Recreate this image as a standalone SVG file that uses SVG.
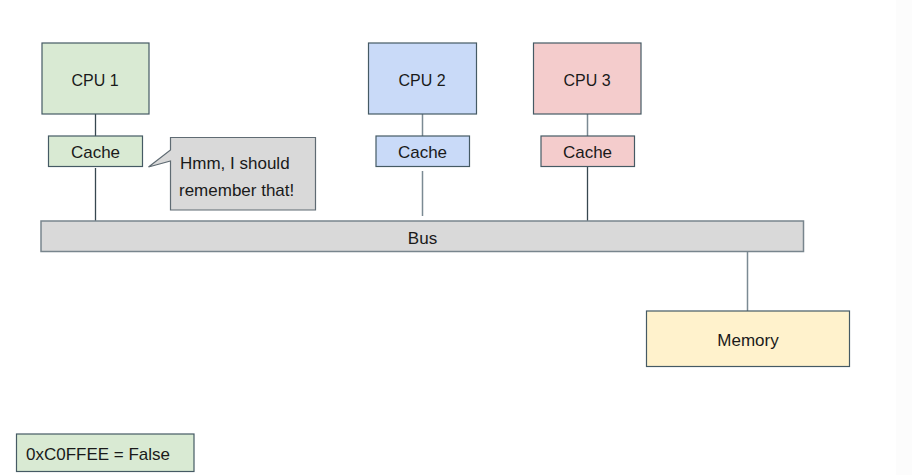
<svg xmlns="http://www.w3.org/2000/svg" width="912" height="475" viewBox="0 0 912 475">
<style>
.box{stroke:#455a64;stroke-width:1.2}
.t{font-family:"Liberation Sans",Arial,sans-serif;font-size:17px;fill:#1a1a1a;text-anchor:middle}
.t16{font-size:16px}
.ts{text-anchor:start}
.dark{stroke:#37474f;stroke-width:1.3;fill:none}
.light{stroke:#7b8a93;stroke-width:1.5;fill:none}
</style>
<rect width="912" height="475" fill="#ffffff"/>
<rect x="896" y="0" width="16" height="475" fill="#fcfcfc"/>
<g id="connectors">
<line class="dark" x1="95.5" y1="114" x2="95.5" y2="136"/>
<line class="dark" x1="95.5" y1="168" x2="95.5" y2="221"/>
<line class="light" x1="422.5" y1="114" x2="422.5" y2="136"/>
<line class="light" x1="422.5" y1="171" x2="422.5" y2="216"/>
<line class="light" x1="587.5" y1="114" x2="587.5" y2="136"/>
<line class="dark" x1="587.5" y1="167" x2="587.5" y2="221"/>
<line class="light" x1="747.5" y1="251" x2="747.5" y2="311"/>
</g>
<g id="cpu1"><rect class="box" x="42" y="43" width="107" height="71" fill="#d9ead3"/><text class="t t16" x="95" y="86">CPU 1</text></g>
<g id="cpu2"><rect class="box" x="368.5" y="43" width="108" height="71" fill="#c9daf8"/><text class="t t16" x="422" y="86">CPU 2</text></g>
<g id="cpu3"><rect class="box" x="533.5" y="43" width="107.5" height="71" fill="#f4cccc"/><text class="t t16" x="587" y="86">CPU 3</text></g>
<g id="cache1"><rect class="box" x="48.5" y="136" width="94" height="30.5" fill="#d9ead3"/><text class="t" x="95.5" y="158">Cache</text></g>
<g id="cache2"><rect class="box" x="376" y="136" width="93.5" height="30.5" fill="#c9daf8"/><text class="t" x="422.5" y="158">Cache</text></g>
<g id="cache3"><rect class="box" x="541" y="136" width="93.5" height="30.5" fill="#f4cccc"/><text class="t" x="587.5" y="158">Cache</text></g>
<g id="callout"><path d="M170.5,137.5 H315.5 V210 H170.5 V161 L148.5,167 L170.5,150 Z" fill="#d9d9d9" stroke="#5f6b73" stroke-width="1.2"/><text class="t ts" x="180" y="169">Hmm, I should</text><text class="t ts" x="179" y="196">remember that!</text></g>
<g id="bus"><rect x="41" y="221" width="762.5" height="30.5" fill="#d9d9d9" stroke="#78858d" stroke-width="1.5"/><text class="t" x="422.5" y="244">Bus</text></g>
<g id="memory"><rect class="box" x="646.5" y="311" width="203" height="55.5" fill="#fff2cc"/><text class="t" x="748" y="346">Memory</text></g>
<g id="legend"><rect class="box" x="16.5" y="434" width="177.5" height="37.5" fill="#d9ead3"/><text class="t" x="98" y="459.5">0xC0FFEE = False</text></g>
</svg>
